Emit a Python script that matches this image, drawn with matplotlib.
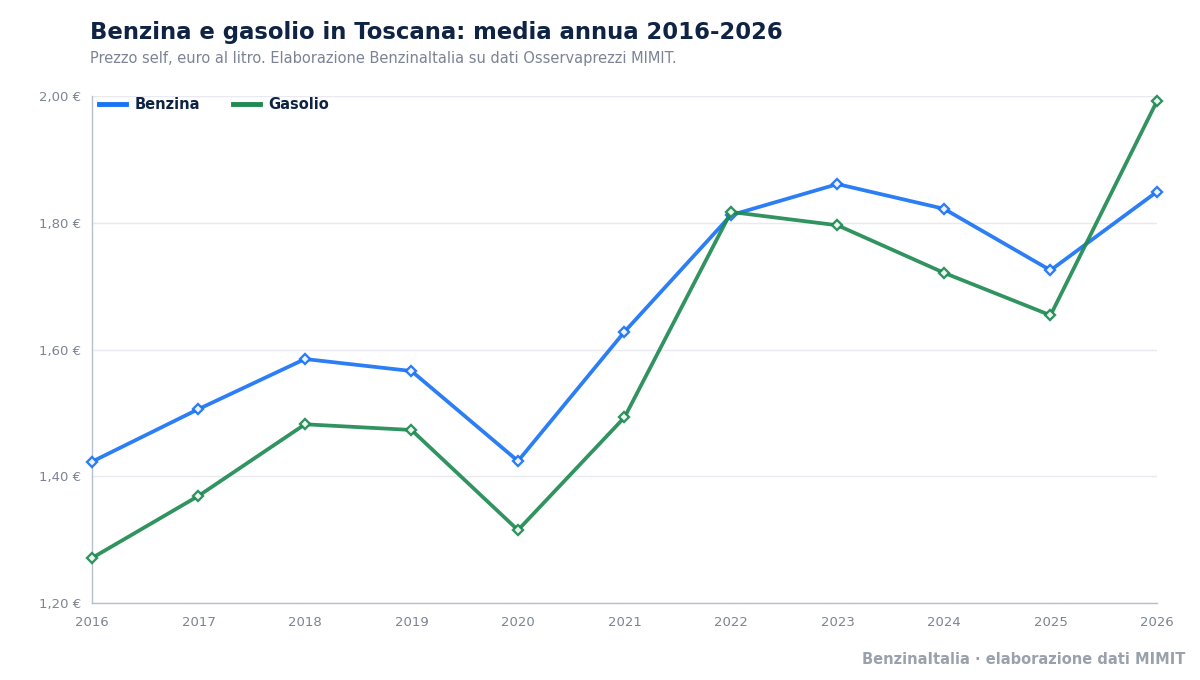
import matplotlib
matplotlib.use("Agg")
import matplotlib.pyplot as plt
from matplotlib.ticker import FuncFormatter

anni = [2016, 2017, 2018, 2019, 2020, 2021, 2022, 2023, 2024, 2025, 2026]
benzina = [1.423, 1.506, 1.585, 1.566, 1.424, 1.628, 1.812, 1.861, 1.822, 1.725, 1.849]
gasolio = [1.271, 1.369, 1.482, 1.473, 1.315, 1.493, 1.817, 1.796, 1.721, 1.654, 1.992]
y_ticks = [1.2, 1.4, 1.6, 1.8, 2.0]

BLU = "#1a73f5"
VERDE = "#1e8a52"
NAVY = "#0f2444"
GRIGIO = "#7b8394"

plt.rcParams['font.family'] = ['DejaVu Sans']

fig = plt.figure(figsize=(12, 6.8), dpi=100)
ax = fig.add_axes([92/1200, 1 - 603/680, (1157-92)/1200, (603-96)/680])

for serie, col, nome in [(benzina, BLU, 'Benzina'), (gasolio, VERDE, 'Gasolio')]:
    ax.plot(anni, serie, color=col, lw=2.7, marker='D', ms=5, mfc='white',
            mec=col, mew=1.7, label=nome, zorder=3, clip_on=False, alpha=0.92)

ax.set_xlim(2016, 2026)
ax.set_ylim(1.2, 2.0)
ax.set_xticks(anni)
ax.set_yticks(y_ticks)
ax.yaxis.set_major_formatter(FuncFormatter(lambda v, p: f"{v:.2f} €".replace('.', ',')))
ax.tick_params(length=0, labelsize=9.5, colors=GRIGIO, pad=8)
ax.tick_params(axis='x', pad=9)
ax.grid(axis='y', color='#e8eaef', lw=1)
ax.set_axisbelow(True)
for s in ['top', 'right']:
    ax.spines[s].set_visible(False)
for s in ['left', 'bottom']:
    ax.spines[s].set_color('#b4bfcd')
    ax.spines[s].set_linewidth(1)

leg = ax.legend(loc='upper left', bbox_to_anchor=(0.0, 1.012), ncol=2, frameon=False,
                borderaxespad=0, borderpad=0.5,
                handlelength=1.85, columnspacing=2.3, handletextpad=0.55,
                prop={'weight': 'bold', 'size': 10.5})
for t in leg.get_texts():
    t.set_color(NAVY)
for h in leg.get_lines():
    h.set_marker('')
    h.set_linewidth(3.5)
    h.set_alpha(1)

fig.text(90/1200, 1 - 32/680, "Benzina e gasolio in Toscana: media annua 2016-2026",
         fontsize=16.4, fontweight='bold', color=NAVY, va='center', ha='left')
fig.text(90/1200, 1 - 58/680, "Prezzo self, euro al litro. Elaborazione BenzinaItalia su dati Osservaprezzi MIMIT.",
         fontsize=10.5, color=GRIGIO, va='center', ha='left')
fig.text(1185/1200, 1 - 659/680, "BenzinaItalia · elaborazione dati MIMIT",
         fontsize=10.5, fontweight='bold', color='#9aa1ad', va='center', ha='right')

fig.savefig("out.png", dpi=100, facecolor='white')
